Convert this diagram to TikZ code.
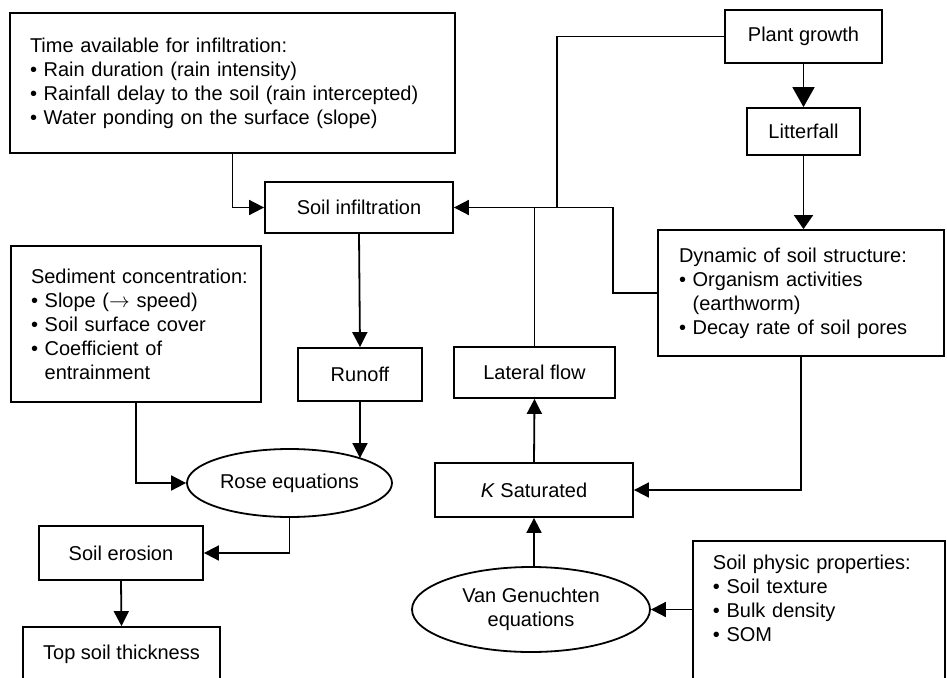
\documentclass[tikz,border=0pt]{standalone}
\usepackage{fontspec}
\setmainfont{Liberation Sans}
\usetikzlibrary{arrows.meta,shapes.geometric}
\newcommand\myitem[1]{\mbox{\textbullet\ #1}}
\newcommand\mycont[1]{\mbox{\hphantom{\textbullet\ }#1}}
\begin{document}
\begin{tikzpicture}[x=1pt,y=-1pt,
  every node/.style={font=\fontsize{20}{24}\selectfont},
  conn/.style={line width=1.8pt},
  box/.style 2 args={draw,conn,minimum width=#1pt,minimum height=#2pt,inner sep=0pt},
  txt/.style={align=left,text width=#1pt},
  oval/.style 2 args={draw,conn,ellipse,minimum width=#1pt,minimum height=#2pt,inner sep=0pt,align=center},
  arr/.style={conn,-{Triangle[length=15pt,width=15pt]}},
]
\useasboundingbox (0,0) rectangle (947,677);
\clip (0,0) rectangle (947,677);

% boxes
\node[box={445}{140},txt=405] (time) at (232.5,83)
  {\mbox{Time available for infiltration:}\\\myitem{Rain duration (rain intensity)}\\\myitem{Rainfall delay to the soil (rain intercepted)}\\\myitem{Water ponding on the surface (slope)}};
\node[box={188}{51}] (infil) at (359,207.5) {Soil infiltration};
\node[box={157}{53}] (plant) at (803.5,36.5) {Plant growth};
\node[box={113}{47}] (litter) at (803.5,131.5) {Litterfall};
\node[box={286}{126},txt=244] (dyn) at (801,293)
  {\mbox{Dynamic of soil structure:}\\\myitem{Organism activities}\\\mycont{(earthworm)}\\\myitem{Decay rate of soil pores}};
\node[box={250}{156},txt=210] (sed) at (136,324)
  {\mbox{Sediment concentration:}\\\myitem{Slope ($\rightarrow$ speed)}\\\myitem{Soil surface cover}\\\myitem{Coefficient of}\\\mycont{entrainment}\\[12pt]};
\node[box={124}{53}] (runoff) at (360,374.5) {Runoff};
\node[box={161}{51}] (lat) at (534.5,372.5) {Lateral flow};
\node[oval={205}{68}] (rose) at (289.5,483) {Rose equations};
\node[box={198}{54}] (ksat) at (534,490) {\textit{K} Saturated};
\node[box={164}{54}] (eros) at (121,553) {Soil erosion};
\node[box={197}{54}] (top) at (121.5,654) {Top soil thickness};
\node[oval={238}{85}] (vg) at (531,609.5) {Van Genuchten\\equations};
\node[draw,conn,anchor=north west,inner xsep=20pt,inner ysep=14pt,text width=212pt,align=left] (phys) at (692,540)
  {\mbox{Soil physic properties:}\\\myitem{Soil texture}\\\myitem{Bulk density}\\\myitem{SOM}\\\mbox{}\\\mbox{}};

% junction points
\coordinate (dj) at (613,207.5);
\coordinate (pj) at (557,207.5);
\coordinate (rt) at (rose.19.5);

% connectors
\draw[arr] (time.south) |- (infil.west);
\draw[arr] (dyn.west) -| (dj) -- (infil.east);
\draw[conn] (plant.west) -| (pj);
\draw[conn] (lat.north) -- (lat.north |- infil.east);
\draw[conn,-{Triangle[length=20pt,width=22pt]}] (plant.south) -- (litter.north);
\draw[conn,-{Triangle[length=14pt,width=19pt]}] (litter.south) -- (litter.south |- dyn.north);
\draw[arr] (dyn.south) |- (ksat.east);
\draw[arr] (vg.north -| ksat.south) -- (ksat.south);
\draw[arr] (ksat.north) -- (lat.south);
\draw[arr] (vg.east -| phys.west) -- (vg.east);
\draw[arr] (infil.south) -- (runoff.north);
\draw[arr] (runoff.south) -- (runoff.south |- rt);
\draw[arr] (sed.south) |- (rose.west);
\draw[arr] (rose.south) |- (eros.east);
\draw[arr] (eros.south) -- (top.north);
\end{tikzpicture}
\end{document}
